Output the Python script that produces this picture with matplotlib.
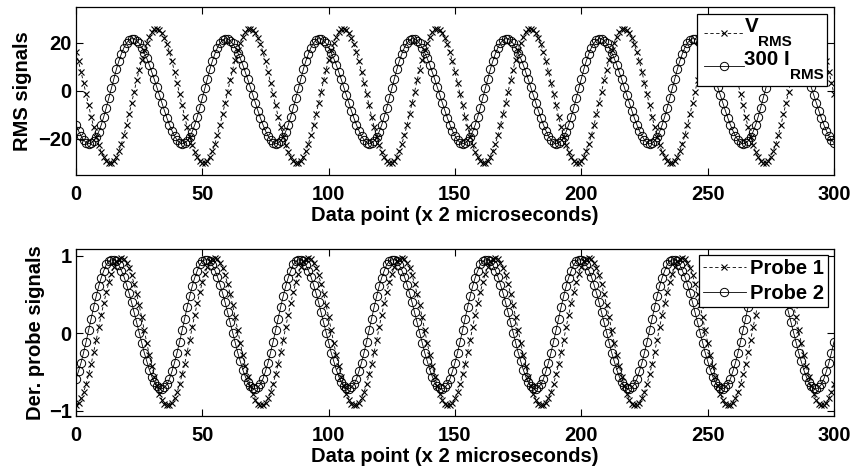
import matplotlib
matplotlib.use('Agg')
import matplotlib.pyplot as plt
from matplotlib.lines import Line2D
from matplotlib.offsetbox import (AnchoredOffsetbox, HPacker, VPacker,
                                  TextArea, DrawingArea)

plt.rcParams['font.family'] = ['Liberation Sans', 'DejaVu Sans']
plt.rcParams['font.weight'] = 'bold'

# ---------------- data ----------------
data_point = list(range(301))

v_rms = [
    16.1, 12.3, 8.0, 3.4, -1.3, -6.0, -10.7, -15.0, -19.0, -22.5, -25.5, -27.7, -29.2, -29.9,
    -29.9, -29.0, -27.3, -24.9, -21.9, -18.3, -14.2, -9.7, -5.1, -0.3, 4.4, 8.9, 13.1, 16.9, 20.1, 22.7, 24.6, 25.7, 26.0, 25.5, 24.2, 22.2, 19.5, 16.1, 12.3, 8.0, 3.4, -1.3, -6.0, -10.7, -15.0, -19.0, -22.5, -25.5, -27.7, -29.2, -29.9,
    -29.9, -29.0, -27.3, -24.9, -21.9, -18.3, -14.2, -9.7, -5.1, -0.3, 4.4, 8.9, 13.1, 16.9, 20.1, 22.7, 24.6, 25.7, 26.0, 25.5, 24.2, 22.2, 19.5, 16.1, 12.3, 8.0, 3.4, -1.3, -6.0, -10.7, -15.0, -19.0, -22.5, -25.5, -27.7, -29.2, -29.9,
    -29.9, -29.0, -27.3, -24.9, -21.9, -18.3, -14.2, -9.7, -5.1, -0.3, 4.4, 8.9, 13.1, 16.9, 20.1, 22.7, 24.6, 25.7, 26.0, 25.5, 24.2, 22.2, 19.5, 16.1, 12.3, 8.0, 3.4, -1.3, -6.0, -10.7, -15.0, -19.0, -22.5, -25.5, -27.7, -29.2, -29.9,
    -29.9, -29.0, -27.3, -24.9, -21.9, -18.3, -14.2, -9.7, -5.1, -0.3, 4.4, 8.9, 13.1, 16.9, 20.1, 22.7, 24.6, 25.7, 26.0, 25.5, 24.2, 22.2, 19.5, 16.1, 12.3, 8.0, 3.4, -1.3, -6.0, -10.7, -15.0, -19.0, -22.5, -25.5, -27.7, -29.2, -29.9,
    -29.9, -29.0, -27.3, -24.9, -21.9, -18.3, -14.2, -9.7, -5.1, -0.3, 4.4, 8.9, 13.1, 16.9, 20.1, 22.7, 24.6, 25.7, 26.0, 25.5, 24.2, 22.2, 19.5, 16.1, 12.3, 8.0, 3.4, -1.3, -6.0, -10.7, -15.0, -19.0, -22.5, -25.5, -27.7, -29.2, -29.9,
    -29.9, -29.0, -27.3, -24.9, -21.9, -18.3, -14.2, -9.7, -5.1, -0.3, 4.4, 8.9, 13.1, 16.9, 20.1, 22.7, 24.6, 25.7, 26.0, 25.5, 24.2, 22.2, 19.5, 16.1, 12.3, 8.0, 3.4, -1.3, -6.0, -10.7, -15.0, -19.0, -22.5, -25.5, -27.7, -29.2, -29.9,
    -29.9, -29.0, -27.3, -24.9, -21.9, -18.3, -14.2, -9.7, -5.1, -0.3, 4.4, 8.9, 13.1, 16.9, 20.1, 22.7, 24.6, 25.7, 26.0, 25.5, 24.2, 22.2, 19.5, 16.1, 12.3, 8.0, 3.4, -1.3, -6.0, -10.7, -15.0, -19.0, -22.5, -25.5, -27.7, -29.2, -29.9,
    -29.9, -29.0, -27.3, -24.9, -21.9, -18.3, -14.2, -9.7, -5.1, -0.3, 4.4, 8.9, 13.1, 16.9, 20.1, 22.7, 24.6, 25.7, 26.0, 25.5, 24.2, 22.2, 19.5, 16.1, 12.3, 8.0, 3.4, -1.3,
]

i_rms_x300 = [
    -14.1, -16.6, -18.7, -20.4, -21.5, -22.0, -21.7, -20.8, -19.2, -16.9, -14.1, -10.7, -6.9, -2.9, 1.2, 5.2, 9.1, 12.6, 15.6, 18.1, 20.0, 21.2, 21.8,
    21.7, 21.0, 19.8, 18.1, 16.0, 13.6, 10.9, 7.9, 4.8, 1.6, -1.7, -5.0, -8.2, -11.3, -14.1, -16.6, -18.7, -20.4, -21.5, -22.0, -21.7, -20.8, -19.2, -16.9, -14.1, -10.7, -6.9, -2.9, 1.2, 5.2, 9.1, 12.6, 15.6, 18.1, 20.0, 21.2, 21.8,
    21.7, 21.0, 19.8, 18.1, 16.0, 13.6, 10.9, 7.9, 4.8, 1.6, -1.7, -5.0, -8.2, -11.3, -14.1, -16.6, -18.7, -20.4, -21.5, -22.0, -21.7, -20.8, -19.2, -16.9, -14.1, -10.7, -6.9, -2.9, 1.2, 5.2, 9.1, 12.6, 15.6, 18.1, 20.0, 21.2, 21.8,
    21.7, 21.0, 19.8, 18.1, 16.0, 13.6, 10.9, 7.9, 4.8, 1.6, -1.7, -5.0, -8.2, -11.3, -14.1, -16.6, -18.7, -20.4, -21.5, -22.0, -21.7, -20.8, -19.2, -16.9, -14.1, -10.7, -6.9, -2.9, 1.2, 5.2, 9.1, 12.6, 15.6, 18.1, 20.0, 21.2, 21.8,
    21.7, 21.0, 19.8, 18.1, 16.0, 13.6, 10.9, 7.9, 4.8, 1.6, -1.7, -5.0, -8.2, -11.3, -14.1, -16.6, -18.7, -20.4, -21.5, -22.0, -21.7, -20.8, -19.2, -16.9, -14.1, -10.7, -6.9, -2.9, 1.2, 5.2, 9.1, 12.6, 15.6, 18.1, 20.0, 21.2, 21.8,
    21.7, 21.0, 19.8, 18.1, 16.0, 13.6, 10.9, 7.9, 4.8, 1.6, -1.7, -5.0, -8.2, -11.3, -14.1, -16.6, -18.7, -20.4, -21.5, -22.0, -21.7, -20.8, -19.2, -16.9, -14.1, -10.7, -6.9, -2.9, 1.2, 5.2, 9.1, 12.6, 15.6, 18.1, 20.0, 21.2, 21.8,
    21.7, 21.0, 19.8, 18.1, 16.0, 13.6, 10.9, 7.9, 4.8, 1.6, -1.7, -5.0, -8.2, -11.3, -14.1, -16.6, -18.7, -20.4, -21.5, -22.0, -21.7, -20.8, -19.2, -16.9, -14.1, -10.7, -6.9, -2.9, 1.2, 5.2, 9.1, 12.6, 15.6, 18.1, 20.0, 21.2, 21.8,
    21.7, 21.0, 19.8, 18.1, 16.0, 13.6, 10.9, 7.9, 4.8, 1.6, -1.7, -5.0, -8.2, -11.3, -14.1, -16.6, -18.7, -20.4, -21.5, -22.0, -21.7, -20.8, -19.2, -16.9, -14.1, -10.7, -6.9, -2.9, 1.2, 5.2, 9.1, 12.6, 15.6, 18.1, 20.0, 21.2, 21.8,
    21.7, 21.0, 19.8, 18.1, 16.0, 13.6, 10.9, 7.9, 4.8, 1.6, -1.7, -5.0, -8.2, -11.3, -14.1, -16.6, -18.7, -20.4, -21.5,
]

probe_1 = [
    -0.93, -0.90, -0.84, -0.76, -0.66, -0.53, -0.40, -0.24, -0.09, 0.08, 0.24, 0.39, 0.53, 0.66, 0.77, 0.86, 0.93, 0.96, 0.97, 0.96, 0.91, 0.85, 0.75, 0.64, 0.51, 0.36, 0.21, 0.04, -0.12, -0.28, -0.42, -0.56, -0.68, -0.78, -0.86, -0.91, -0.93,
    -0.93, -0.90, -0.84, -0.76, -0.66, -0.53, -0.40, -0.24, -0.09, 0.08, 0.24, 0.39, 0.53, 0.66, 0.77, 0.86, 0.93, 0.96, 0.97, 0.96, 0.91, 0.85, 0.75, 0.64, 0.51, 0.36, 0.21, 0.04, -0.12, -0.28, -0.42, -0.56, -0.68, -0.78, -0.86, -0.91, -0.93,
    -0.93, -0.90, -0.84, -0.76, -0.66, -0.53, -0.40, -0.24, -0.09, 0.08, 0.24, 0.39, 0.53, 0.66, 0.77, 0.86, 0.93, 0.96, 0.97, 0.96, 0.91, 0.85, 0.75, 0.64, 0.51, 0.36, 0.21, 0.04, -0.12, -0.28, -0.42, -0.56, -0.68, -0.78, -0.86, -0.91, -0.93,
    -0.93, -0.90, -0.84, -0.76, -0.66, -0.53, -0.40, -0.24, -0.09, 0.08, 0.24, 0.39, 0.53, 0.66, 0.77, 0.86, 0.93, 0.96, 0.97, 0.96, 0.91, 0.85, 0.75, 0.64, 0.51, 0.36, 0.21, 0.04, -0.12, -0.28, -0.42, -0.56, -0.68, -0.78, -0.86, -0.91, -0.93,
    -0.93, -0.90, -0.84, -0.76, -0.66, -0.53, -0.40, -0.24, -0.09, 0.08, 0.24, 0.39, 0.53, 0.66, 0.77, 0.86, 0.93, 0.96, 0.97, 0.96, 0.91, 0.85, 0.75, 0.64, 0.51, 0.36, 0.21, 0.04, -0.12, -0.28, -0.42, -0.56, -0.68, -0.78, -0.86, -0.91, -0.93,
    -0.93, -0.90, -0.84, -0.76, -0.66, -0.53, -0.40, -0.24, -0.09, 0.08, 0.24, 0.39, 0.53, 0.66, 0.77, 0.86, 0.93, 0.96, 0.97, 0.96, 0.91, 0.85, 0.75, 0.64, 0.51, 0.36, 0.21, 0.04, -0.12, -0.28, -0.42, -0.56, -0.68, -0.78, -0.86, -0.91, -0.93,
    -0.93, -0.90, -0.84, -0.76, -0.66, -0.53, -0.40, -0.24, -0.09, 0.08, 0.24, 0.39, 0.53, 0.66, 0.77, 0.86, 0.93, 0.96, 0.97, 0.96, 0.91, 0.85, 0.75, 0.64, 0.51, 0.36, 0.21, 0.04, -0.12, -0.28, -0.42, -0.56, -0.68, -0.78, -0.86, -0.91, -0.93,
    -0.93, -0.90, -0.84, -0.76, -0.66, -0.53, -0.40, -0.24, -0.09, 0.08, 0.24, 0.39, 0.53, 0.66, 0.77, 0.86, 0.93, 0.96, 0.97, 0.96, 0.91, 0.85, 0.75, 0.64, 0.51, 0.36, 0.21, 0.04, -0.12, -0.28, -0.42, -0.56, -0.68, -0.78, -0.86, -0.91, -0.93,
    -0.93, -0.90, -0.84, -0.76, -0.66,
]

probe_2 = [
    -0.59, -0.49, -0.38, -0.25, -0.11, 0.04, 0.19, 0.34, 0.48, 0.61, 0.72, 0.81, 0.89, 0.93, 0.95,
    0.95, 0.93, 0.88, 0.81, 0.73, 0.63, 0.52, 0.40, 0.27, 0.14, 0.01, -0.12, -0.25, -0.36, -0.47, -0.56, -0.63, -0.68, -0.71, -0.72, -0.70, -0.66, -0.59, -0.49, -0.38, -0.25, -0.11, 0.04, 0.19, 0.34, 0.48, 0.61, 0.72, 0.81, 0.89, 0.93, 0.95,
    0.95, 0.93, 0.88, 0.81, 0.73, 0.63, 0.52, 0.40, 0.27, 0.14, 0.01, -0.12, -0.25, -0.36, -0.47, -0.56, -0.63, -0.68, -0.71, -0.72, -0.70, -0.66, -0.59, -0.49, -0.38, -0.25, -0.11, 0.04, 0.19, 0.34, 0.48, 0.61, 0.72, 0.81, 0.89, 0.93, 0.95,
    0.95, 0.93, 0.88, 0.81, 0.73, 0.63, 0.52, 0.40, 0.27, 0.14, 0.01, -0.12, -0.25, -0.36, -0.47, -0.56, -0.63, -0.68, -0.71, -0.72, -0.70, -0.66, -0.59, -0.49, -0.38, -0.25, -0.11, 0.04, 0.19, 0.34, 0.48, 0.61, 0.72, 0.81, 0.89, 0.93, 0.95,
    0.95, 0.93, 0.88, 0.81, 0.73, 0.63, 0.52, 0.40, 0.27, 0.14, 0.01, -0.12, -0.25, -0.36, -0.47, -0.56, -0.63, -0.68, -0.71, -0.72, -0.70, -0.66, -0.59, -0.49, -0.38, -0.25, -0.11, 0.04, 0.19, 0.34, 0.48, 0.61, 0.72, 0.81, 0.89, 0.93, 0.95,
    0.95, 0.93, 0.88, 0.81, 0.73, 0.63, 0.52, 0.40, 0.27, 0.14, 0.01, -0.12, -0.25, -0.36, -0.47, -0.56, -0.63, -0.68, -0.71, -0.72, -0.70, -0.66, -0.59, -0.49, -0.38, -0.25, -0.11, 0.04, 0.19, 0.34, 0.48, 0.61, 0.72, 0.81, 0.89, 0.93, 0.95,
    0.95, 0.93, 0.88, 0.81, 0.73, 0.63, 0.52, 0.40, 0.27, 0.14, 0.01, -0.12, -0.25, -0.36, -0.47, -0.56, -0.63, -0.68, -0.71, -0.72, -0.70, -0.66, -0.59, -0.49, -0.38, -0.25, -0.11, 0.04, 0.19, 0.34, 0.48, 0.61, 0.72, 0.81, 0.89, 0.93, 0.95,
    0.95, 0.93, 0.88, 0.81, 0.73, 0.63, 0.52, 0.40, 0.27, 0.14, 0.01, -0.12, -0.25, -0.36, -0.47, -0.56, -0.63, -0.68, -0.71, -0.72, -0.70, -0.66, -0.59, -0.49, -0.38, -0.25, -0.11, 0.04, 0.19, 0.34, 0.48, 0.61, 0.72, 0.81, 0.89, 0.93, 0.95,
    0.95, 0.93, 0.88, 0.81, 0.73, 0.63, 0.52, 0.40, 0.27, 0.14, 0.01, -0.12, -0.25, -0.36, -0.47, -0.56, -0.63, -0.68, -0.71, -0.72, -0.70, -0.66, -0.59, -0.49, -0.38, -0.25, -0.11,
]

x_ticks = [0, 50, 100, 150, 200, 250, 300]
top_yticks = [-20, 0, 20]
bottom_yticks = [-1, 0, 1]
x_label = 'Data point (x 2 microseconds)'
top_legend = [('V', 'RMS'), ('300 I', 'RMS')]
bottom_legend = ['Probe 1', 'Probe 2']

# ---------------- figure ----------------
W, H = 853, 467
fig = plt.figure(figsize=(W / 100, H / 100), dpi=100)
ax1 = fig.add_axes([76 / W, 1 - 175 / H, (834 - 76) / W, (175 - 7) / H])
ax2 = fig.add_axes([76 / W, 1 - 416 / H, (834 - 76) / W, (416 - 249) / H])

FS = 14.5
LEG_FS = 14.8
SUB_FS = 11.0
line_kw = dict(color='black', lw=0.6)
dash_style = dict(ls='--', dashes=(4, 3), marker='x', ms=4, mew=0.8)
solid_style = dict(ls='-', marker='o', ms=6, mfc='none', mew=0.7)

ax1.plot(data_point, v_rms, **dash_style, **line_kw)
ax1.plot(data_point, i_rms_x300, **solid_style, **line_kw)
ax2.plot(data_point, probe_1, label=bottom_legend[0], **dash_style, **line_kw)
ax2.plot(data_point, probe_2, label=bottom_legend[1], **solid_style, **line_kw)

ax1.set_ylim(-35, 35)
ax2.set_ylim(-1.07, 1.09)
ax1.set_yticks(top_yticks)
ax2.set_yticks(bottom_yticks)
ax1.set_ylabel('RMS signals', fontsize=FS, fontweight='bold', labelpad=4)
ax2.set_ylabel('Der. probe signals', fontsize=FS, fontweight='bold', labelpad=2.5)

for ax in (ax1, ax2):
    ax.set_xlim(0, 300)
    ax.set_xticks(x_ticks)
    ax.set_xlabel(x_label, fontsize=FS, fontweight='bold', labelpad=1)
    ax.tick_params(direction='in', top=True, right=True, length=5, width=0.8,
                   labelsize=FS)
    ax.tick_params(axis='x', pad=7.4)
    ax.tick_params(axis='y', pad=3)
    for t in ax.get_xticklabels() + ax.get_yticklabels():
        t.set_fontweight('bold')
    for s in ax.spines.values():
        s.set_linewidth(0.9)

# bottom legend (standard)
leg = ax2.legend(loc='upper right', frameon=True, fancybox=False, framealpha=1,
                 edgecolor='black', borderaxespad=0.3, handlelength=2.15,
                 handletextpad=0.2, borderpad=0.2, labelspacing=0.3,
                 prop={'weight': 'bold', 'size': FS})
leg.get_frame().set_linewidth(0.9)


# top legend with MATLAB-like lowered subscripts
def handle_area(style):
    da = DrawingArea(32, 14, 0, 0)
    kw = dict(style)
    marker = kw.pop('marker')
    ms = kw.pop('ms')
    mew = kw.pop('mew')
    mfc = kw.pop('mfc', 'black')
    da.add_artist(Line2D([2.7, 31.5], [7, 7], **kw, **line_kw))
    da.add_artist(Line2D([17.1], [7], ls='none', marker=marker, ms=ms, mew=mew,
                         mfc=mfc, mec='black'))
    return da


def sub_label(main, sub):
    t_main = TextArea(main, textprops=dict(size=LEG_FS, weight='bold'))
    t_sub = TextArea(sub, textprops=dict(size=SUB_FS, weight='bold'))
    lowered = VPacker(children=[DrawingArea(1, 13.2), t_sub], pad=0, sep=0,
                      align='left')
    return HPacker(children=[t_main, lowered], pad=0, sep=0, align='top')


rows = []
for (main, sub), style in zip(top_legend, (dash_style, solid_style)):
    rows.append(HPacker(children=[handle_area(style), sub_label(main, sub)],
                        pad=0, sep=0, align='center'))
box = VPacker(children=rows, pad=0, sep=0.5, align='left')
anch = AnchoredOffsetbox(loc='upper right', child=box, pad=0.15, borderpad=0.34,
                         frameon=True, prop=dict(size=LEG_FS))
anch.patch.set_edgecolor('black')
anch.patch.set_facecolor('white')
anch.patch.set_linewidth(0.9)
anch.set_zorder(5)
ax1.add_artist(anch)

fig.savefig('out.png', dpi=100)
